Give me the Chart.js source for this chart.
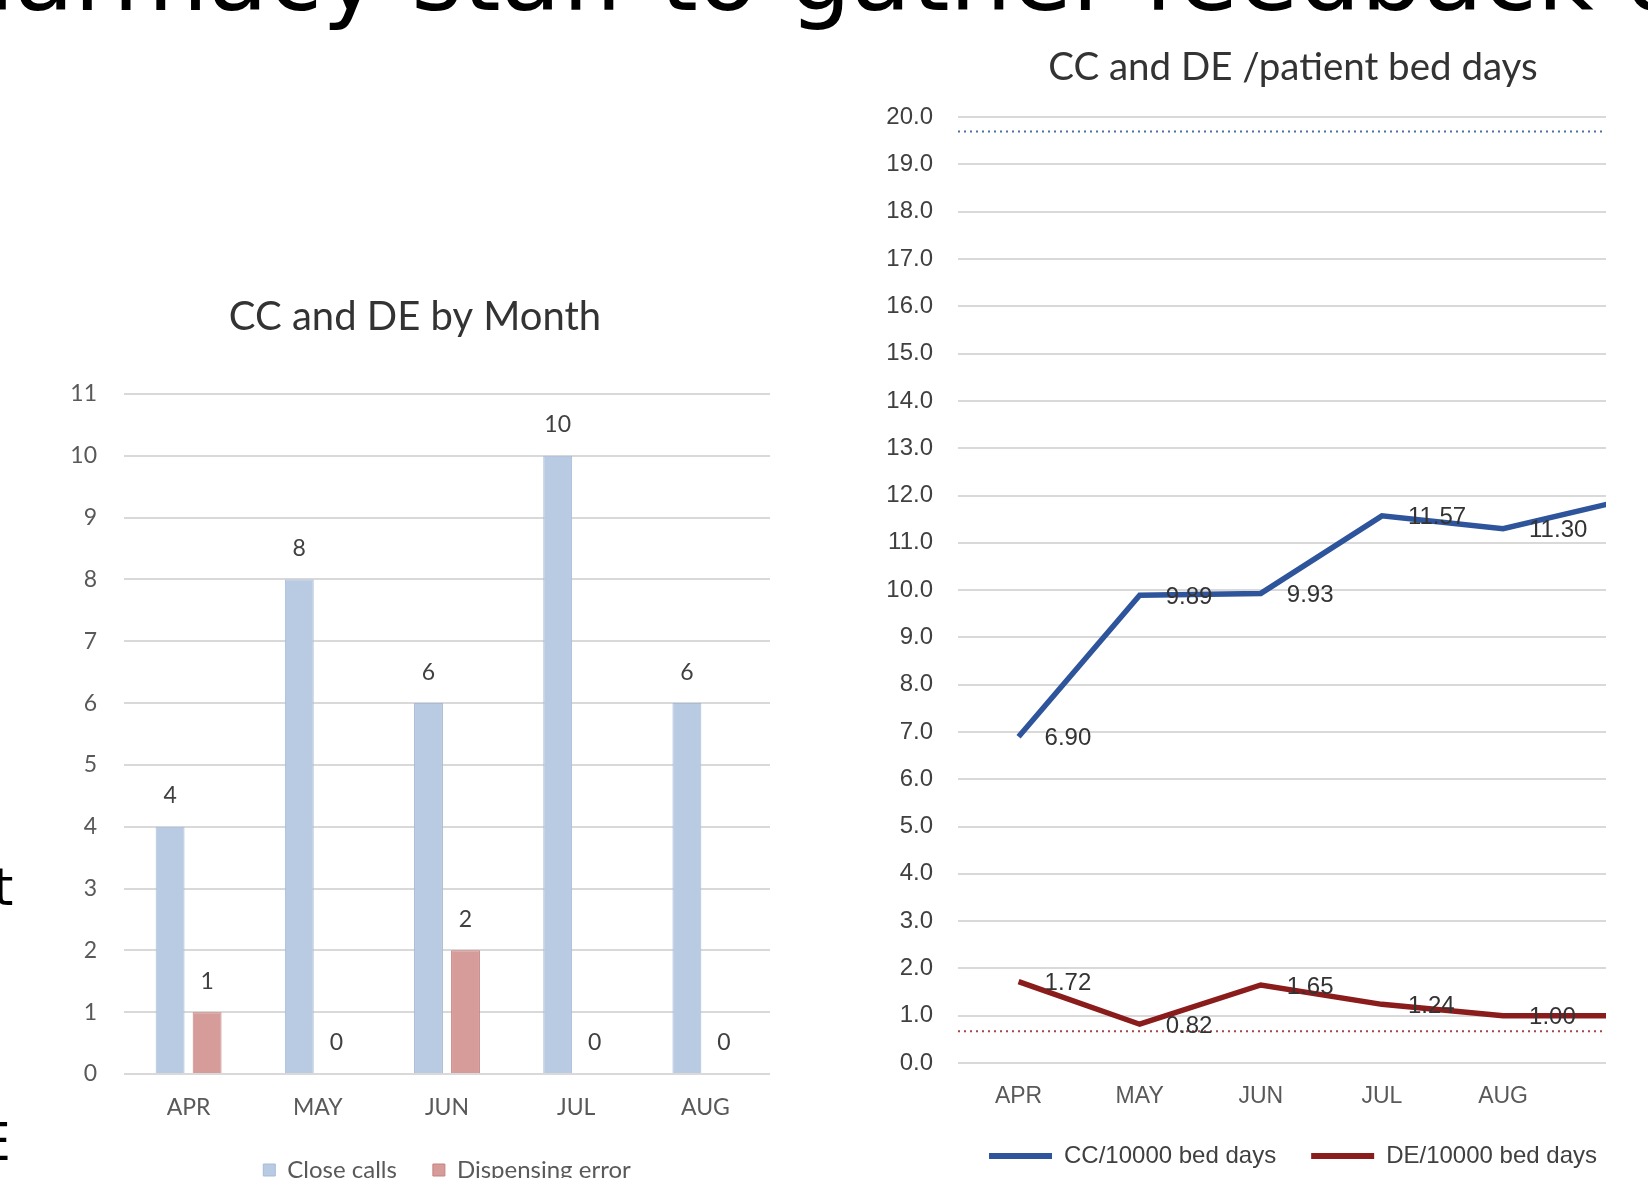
<!DOCTYPE html>
<html>
<head>
<meta charset="utf-8">
<script src="https://cdn.jsdelivr.net/npm/chart.js@4.4.1/dist/chart.umd.min.js"></script>
<style>
html,body{margin:0;padding:0;width:1648px;height:1178px;overflow:hidden;background:#fff;}
.txt{position:absolute;white-space:nowrap;font-family:"DejaVu Sans",sans-serif;color:#000;line-height:1;}
#c1wrap{position:absolute;left:0;top:293px;width:830px;height:899px;}
#c2wrap{position:absolute;left:880px;top:43px;width:826px;height:1135px;}
</style>
</head>
<body>
<div class="txt" id="headline" style="font-size:98px;top:-73px;left:-60px;">Pharmacy staff to gather feedback on</div>
<div class="txt" style="font-size:52px;top:861px;left:-7px;">t</div>
<div class="txt" style="font-size:52px;top:1116px;left:-22px;">E</div>
<div id="c1wrap"><canvas id="c1"></canvas></div>
<div id="c2wrap"><canvas id="c2"></canvas></div>
<script>
// ---- data: left chart (counts) ----
const barMonths = ['APR', 'MAY', 'JUN', 'JUL', 'AUG'];
const closeCalls = [4, 8, 6, 10, 6];
const dispensingErrors = [1, 0, 2, 0, 0];
const barAxisMax = 11;

// ---- data: right chart (rates per 10000 bed days) ----
const rateMonths = ['APR', 'MAY', 'JUN', 'JUL', 'AUG', 'SEP'];
const ccPer10000 = [6.90, 9.89, 9.93, 11.57, 11.30, 11.90];
const dePer10000 = [1.72, 0.82, 1.65, 1.24, 1.00, 1.00];
const ccLimit = 19.7;
const deLimit = 0.67;
const rateAxisMax = 20;

// headline position (cropped slide text)
(function(){
  const hl = document.getElementById('headline');
  const ctx = document.createElement('canvas').getContext('2d');
  ctx.font = '98px "DejaVu Sans"';
  hl.style.left = (14 - ctx.measureText('Ph').width) + 'px';
})();

const spacerScale = w => ({
  position: 'right', display: true,
  grid: { display: false, drawTicks: false }, border: { display: false },
  ticks: { display: false },
  afterFit: s => { s.width = w; }
});

const barValueLabels = {
  id: 'barValueLabels',
  afterDatasetsDraw(chart) {
    const ctx = chart.ctx;
    ctx.save();
    ctx.font = '23px Lato';
    ctx.fillStyle = '#404040';
    ctx.textAlign = 'center';
    ctx.textBaseline = 'middle';
    chart.data.datasets.forEach((ds, di) => {
      chart.getDatasetMeta(di).data.forEach((el, i) => {
        ctx.fillText(String(ds.data[i]), el.x, el.y - 31);
      });
    });
    ctx.restore();
  }
};

new Chart(document.getElementById('c1'), {
  type: 'bar',
  data: {
    labels: barMonths,
    datasets: [
      { label: 'Close calls', data: closeCalls, backgroundColor: '#B9CAE3', borderColor: '#A8BBD8', borderWidth: 1, categoryPercentage: 0.573, barPercentage: 0.78 },
      { label: 'Dispensing error', data: dispensingErrors, backgroundColor: '#D59C9A', borderColor: '#C7817F', borderWidth: 1, categoryPercentage: 0.573, barPercentage: 0.78 }
    ]
  },
  options: {
    responsive: true, maintainAspectRatio: false, animation: false,
    layout: { padding: 0 },
    plugins: {
      title: { display: true, text: 'CC and DE by Month', font: { family: 'Lato', size: 40, weight: 'normal' }, color: '#333333', padding: { top: 0, bottom: 53 } },
      legend: { position: 'bottom', fullSize: false, labels: { boxWidth: 12, boxHeight: 12, padding: 36, font: { family: 'Lato', size: 24 }, color: '#595959' } },
      tooltip: { enabled: false }
    },
    scales: {
      x: { grid: { display: false, drawTicks: false }, border: { display: false },
           ticks: { padding: 20, maxRotation: 0, font: { family: 'Lato', size: 23 }, color: '#595959' },
           afterFit: s => { s.height = 48; } },
      y: { min: 0, max: barAxisMax,
           ticks: { stepSize: 1, padding: 27, font: { family: 'Lato', size: 23 }, color: '#595959' },
           grid: { color: '#D9D9D9', lineWidth: 2, drawTicks: false }, border: { display: false },
           afterFit: s => { s.width = 124; } },
      yRightSpace: spacerScale(60)
    }
  },
  plugins: [barValueLabels]
});

const limitLines = {
  id: 'limitLines',
  beforeDatasetsDraw(chart) {
    const { ctx, chartArea: a } = chart;
    const y = chart.scales.y;
    [[ccLimit, '#4F70A4'], [deLimit, '#A24848']].forEach(([v, c]) => {
      const py = y.getPixelForValue(v);
      ctx.save();
      ctx.strokeStyle = c;
      ctx.lineWidth = 2;
      ctx.setLineDash([2, 4]);
      ctx.beginPath();
      ctx.moveTo(a.left, py);
      ctx.lineTo(a.right, py);
      ctx.stroke();
      ctx.restore();
    });
  }
};

const rateValueLabels = {
  id: 'rateValueLabels',
  afterDatasetsDraw(chart) {
    const ctx = chart.ctx;
    ctx.save();
    ctx.font = '24px "Liberation Sans"';
    ctx.fillStyle = '#333333';
    ctx.textAlign = 'left';
    ctx.textBaseline = 'middle';
    chart.data.datasets.forEach((ds, di) => {
      chart.getDatasetMeta(di).data.forEach((el, i) => {
        if (el.x > chart.chartArea.right - 30) return;
        ctx.fillText(ds.data[i].y.toFixed(2), el.x + 26, el.y + 2);
      });
    });
    ctx.restore();
  }
};

new Chart(document.getElementById('c2'), {
  type: 'line',
  data: {
    datasets: [
      { label: 'CC/10000 bed days', data: ccPer10000.map((v, i) => ({ x: i, y: v })), borderColor: '#2E559B', backgroundColor: '#2E559B', borderWidth: 5.5, pointRadius: 0, tension: 0, clip: 0, yAxisID: 'y' },
      { label: 'DE/10000 bed days', data: dePer10000.map((v, i) => ({ x: i, y: v })), borderColor: '#8B1C1C', backgroundColor: '#8B1C1C', borderWidth: 5.5, pointRadius: 0, tension: 0, clip: 0, yAxisID: 'y' }
    ]
  },
  options: {
    responsive: true, maintainAspectRatio: false, animation: false,
    layout: { padding: 0 },
    plugins: {
      title: { display: true, text: 'CC and DE /patient bed days', font: { family: 'Lato', size: 38.5, weight: 'normal' }, color: '#333333', padding: { top: 1, bottom: 27 } },
      legend: { position: 'bottom',
        labels: { boxWidth: 63, boxHeight: 6, padding: 35, font: { family: 'Liberation Sans', size: 24 }, color: '#404040',
          generateLabels: chart => Chart.defaults.plugins.legend.labels.generateLabels(chart).map(l => Object.assign(l, { lineWidth: 0 })) } },
      tooltip: { enabled: false }
    },
    scales: {
      x: { type: 'linear', min: -0.5, max: 4.85,
           afterBuildTicks: s => { s.ticks = rateMonths.map((m, i) => ({ value: i })).filter(t => t.value <= s.max); },
           ticks: { autoSkip: false, maxRotation: 0, padding: 20, callback: v => rateMonths[v], font: { family: 'Liberation Sans', size: 23 }, color: '#595959' },
           grid: { display: false, drawTicks: false }, border: { display: false },
           afterFit: s => { s.height = 46; } },
      y: { min: 0, max: rateAxisMax,
           ticks: { stepSize: 1, padding: 25, callback: v => v.toFixed(1), font: { family: 'Liberation Sans', size: 24 }, color: '#404040' },
           grid: { color: '#D9D9D9', lineWidth: 2, drawTicks: false }, border: { display: false },
           afterFit: s => { s.width = 78; } },
      yRightSpace: spacerScale(100)
    }
  },
  plugins: [limitLines, rateValueLabels]
});
</script>
</body>
</html>
